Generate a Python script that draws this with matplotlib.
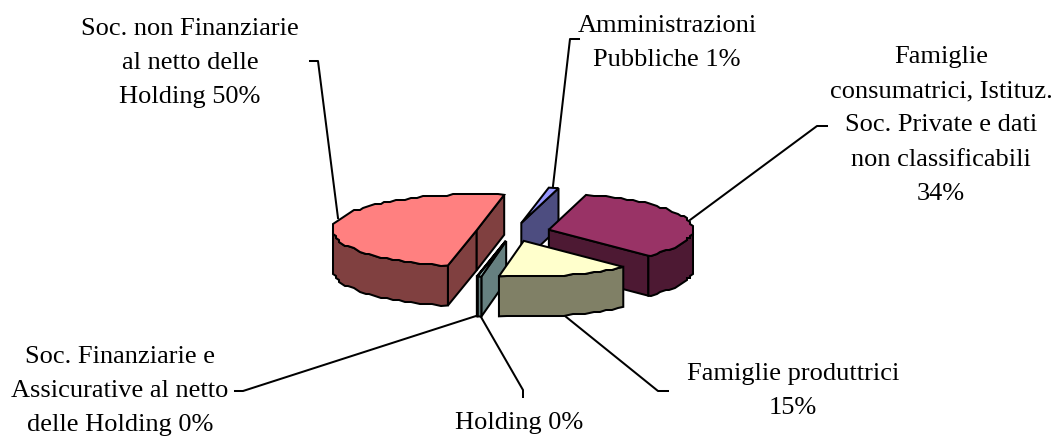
"""Exploded 3D pie of shares by institutional sector."""

import matplotlib

matplotlib.use("Agg")
import matplotlib.pyplot as plt
import numpy as np
from matplotlib.patches import Polygon

LABELS = [
    "Amministrazioni\nPubbliche 1%",
    "Famiglie\nconsumatrici, Istituz.\nSoc. Private e dati\nnon classificabili\n34%",
    "Famiglie produttrici\n15%",
    "Holding 0%",
    "Soc. Finanziarie e\nAssicurative al netto\ndelle Holding 0%",
    "Soc. non Finanziarie\nal netto delle\nHolding 50%",
]
VALUES = [1.1, 33.7, 14.9, 0.4, 0.05, 49.85]
TOP_COLORS = ["#9999FF", "#993366", "#FFFFCC", "#CCFFFF", "#660066", "#FF8080"]
SIDE_COLORS = ["#4D4D80", "#4D1933", "#808066", "#668080", "#330033", "#804040"]

# pie geometry in figure pixels
CENTER = (513.0, 232.0)
RX, RY = 144.0, 36.0
DEPTH = 40.0
EXPLODE = 37.0
START_ANGLE = 79.0
ARC_STEP = 3.0
SNAP_X, SNAP_Y = 3.0, 2.0

# label centre, first line y, then the leader line
LABEL_POS = [(667, 24), (941, 55), (793, 372), (519, 421), (120, 355), (190, 27)]
LEADERS = [
    [(579, 39), (570, 39), (553, 186)],
    [(827, 126), (817, 126), (690, 220)],
    [(668, 391), (658, 391), (565, 316)],
    [(523, 397), (523, 390), (481, 317)],
    [(235, 391), (243, 391), (476, 316)],
    [(310, 61), (318, 61), (338, 218)],
]
DRAW_ORDER = [0, 1, 5, 4, 3, 2]
LINE_WIDTH = 1.45


def wedge_outline(center, t1, t2):
    """Top face of a wedge running clockwise from t1 to t2 (degrees)."""
    t = np.radians(np.arange(t1, t2, -ARC_STEP).tolist() + [t2])
    x = center[0] + RX * np.cos(t)
    y = center[1] - RY * np.sin(t)
    # the original was rasterised coarsely, arcs come out scalloped
    if len(t) > 8:
        x[1:-1] = np.round(x[1:-1] / SNAP_X) * SNAP_X
        y[1:-1] = np.round(y[1:-1] / SNAP_Y) * SNAP_Y
    return np.column_stack([x, y])


def side_face(ax, top_points, color, zorder):
    bottom = top_points[::-1] + [0, DEPTH]
    ax.add_patch(
        Polygon(
            np.vstack([top_points, bottom]),
            closed=True,
            facecolor=color,
            edgecolor="black",
            linewidth=LINE_WIDTH,
            zorder=zorder,
        )
    )


def draw_wedge(ax, center, t1, t2, top, side, zorder):
    arc = wedge_outline(center, t1, t2)
    apex = np.array(center)
    # straight cut faces show when they look towards the viewer
    cuts = [np.array([apex, arc[0]]), np.array([apex, arc[-1]])]
    for cut, sign in zip(cuts, (-1, 1)):
        edge = cut[1] - cut[0]
        if sign * edge[0] > 0 or (t2 - t1 <= -179 and edge[0] > 0):
            side_face(ax, cut, side, zorder)
    facing = arc[np.sin(np.radians(np.linspace(t1, t2, len(arc)))) <= 0]
    if len(facing) > 1:
        side_face(ax, facing, side, zorder)
    ax.add_patch(
        Polygon(
            np.vstack([apex, arc]),
            closed=True,
            facecolor=top,
            edgecolor="black",
            linewidth=LINE_WIDTH,
            zorder=zorder + 0.5,
        )
    )


def main():
    fig = plt.figure(figsize=(10.57, 4.37), dpi=100)
    ax = fig.add_axes([0, 0, 1, 1])
    ax.set_xlim(0, 1057)
    ax.set_ylim(437, 0)
    ax.axis("off")

    shares = np.array(VALUES) / sum(VALUES) * 360.0
    ends = START_ANGLE - np.cumsum(shares)
    starts = ends + shares
    for rank, i in enumerate(DRAW_ORDER):
        mid = np.radians((starts[i] + ends[i]) / 2)
        center = (
            CENTER[0] + EXPLODE * np.cos(mid),
            CENTER[1] - EXPLODE * RY / RX * np.sin(mid),
        )
        draw_wedge(ax, center, starts[i], ends[i], TOP_COLORS[i], SIDE_COLORS[i], 2 + rank)

    for label, (x, y), leader in zip(LABELS, LABEL_POS, LEADERS):
        xs, ys = zip(*leader)
        ax.plot(xs, ys, color="black", linewidth=LINE_WIDTH, zorder=1)
        ax.text(
            x,
            y - 9,
            label,
            ha="center",
            va="top",
            multialignment="center",
            family="Liberation Serif",
            fontsize=19,
            linespacing=1.72,
        )

    fig.savefig("out.png", dpi=100)


if __name__ == "__main__":
    main()
